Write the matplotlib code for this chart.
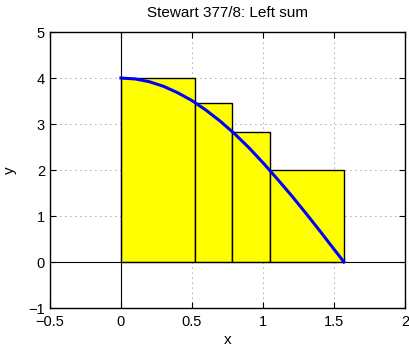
import matplotlib
matplotlib.use("Agg")
import matplotlib.pyplot as plt
from matplotlib.patches import Rectangle

plt.rcParams["font.family"] = ["Liberation Sans", "DejaVu Sans"]
plt.rcParams["axes.unicode_minus"] = True

# partition points and left heights
left_x = [0.0, 0.524, 0.785, 1.047]
right_x = [0.524, 0.785, 1.047, 1.571]
heights = [4.0, 3.46, 2.83, 2.0]

# curve
curve_x = [0.0, 0.1, 0.2, 0.3, 0.4, 0.5, 0.6, 0.7, 0.8, 0.9, 1.0, 1.1, 1.2, 1.3, 1.4, 1.5, 1.571]
curve_y = [4.0, 3.98, 3.92, 3.82, 3.68, 3.51, 3.30, 3.06, 2.79, 2.49, 2.16, 1.81, 1.45, 1.07, 0.68, 0.28, 0.0]

xticks = [-0.5, 0, 0.5, 1, 1.5, 2]
yticks = [-1, 0, 1, 2, 3, 4, 5]

fig = plt.figure(figsize=(4.09, 3.52), dpi=100)
ax = fig.add_axes([0.122, 0.125, 0.868, 0.784])

for x0, x1, h in zip(left_x, right_x, heights):
    ax.add_patch(Rectangle((x0, 0), x1 - x0, h, facecolor="yellow",
                           edgecolor="black", linewidth=1.0, zorder=2))

ax.plot(curve_x, curve_y, color="blue", linewidth=2.2, zorder=3)
ax.axhline(0, color="black", linewidth=0.8, zorder=2.5)
ax.axvline(0, color="black", linewidth=0.8, zorder=2.5)

ax.set_xlim(-0.5, 2)
ax.set_ylim(-1, 5)
ax.set_xticks(xticks)
ax.set_yticks(yticks)
ax.set_xticklabels(["\u22120.5", "0", "0.5", "1", "1.5", "2"])
ax.set_yticklabels(["\u22121", "0", "1", "2", "3", "4", "5"])
ax.grid(True, linestyle=(0, (1, 5)), color="#555555", linewidth=0.6, zorder=0)
ax.set_axisbelow(True)
ax.tick_params(direction="in", top=True, right=True, labelsize=10.5, length=4, width=0.8)
ax.tick_params(axis="x", pad=5)
for s in ax.spines.values():
    s.set_linewidth(1.0)

ax.set_title("Stewart 377/8: Left sum", fontsize=11, pad=11)
ax.set_xlabel("x", fontsize=11, labelpad=3)
ax.set_ylabel("y", fontsize=11, labelpad=8)

fig.savefig("out.png", dpi=100)
